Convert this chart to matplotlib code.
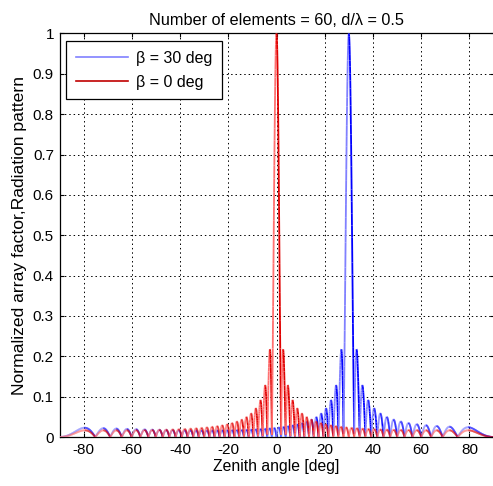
import numpy as np
import matplotlib
matplotlib.use("Agg")
import matplotlib.pyplot as plt
from matplotlib.collections import LineCollection
from matplotlib.lines import Line2D

plt.rcParams['font.family'] = ['Liberation Sans', 'DejaVu Sans']
plt.rcParams['axes.unicode_minus'] = False

# Array parameters
n_elements = 60
spacing_wl = 0.5                 # element spacing d / lambda
steer_deg = [30, 0]              # beam steering angles beta
legend_labels = ['\u03b2 = 30 deg', '\u03b2 = 0 deg']
rise_colors = ['#8080ff', '#ff7070']
fall_colors = ['#0000ff', '#e00000']
legend_colors = ['#8080ff', '#c00000']
x_ticks = [-80, -60, -40, -20, 0, 20, 40, 60, 80]
y_ticks = [0, 0.1, 0.2, 0.3, 0.4, 0.5, 0.6, 0.7, 0.8, 0.9, 1]
y_tick_labels = ['0', '0.1', '0.2', '0.3', '0.4', '0.5', '0.6', '0.7', '0.8', '0.9', '1']

theta = np.linspace(-90, 90, 3601)


def array_factor(theta_deg, beta_deg):
    psi = 2 * np.pi * spacing_wl * (np.sin(np.radians(theta_deg)) - np.sin(np.radians(beta_deg)))
    num = np.sin(n_elements * psi / 2)
    den = n_elements * np.sin(psi / 2)
    with np.errstate(invalid='ignore', divide='ignore'):
        af = np.where(np.abs(den) < 1e-12, 1.0, num / den)
    af = np.abs(af)
    return af / af.max()


fig = plt.figure(figsize=(4.93, 4.86), dpi=100)
ax = fig.add_axes([59.5 / 493, 49 / 486, 434 / 493, 403.5 / 486])

for beta, c_up, c_down in zip(steer_deg, rise_colors, fall_colors):
    af = array_factor(theta, beta)
    pts = np.column_stack([theta, af]).reshape(-1, 1, 2)
    segs = np.concatenate([pts[:-1], pts[1:]], axis=1)
    rising = np.diff(af) > 0
    cols = [c_up if r else c_down for r in rising]
    ax.add_collection(LineCollection(segs, colors=cols, linewidths=1.3, zorder=3))

ax.set_xlim(-90, 90)
ax.set_ylim(0, 1)
ax.set_xticks(x_ticks)
ax.set_yticks(y_ticks)
ax.set_yticklabels(y_tick_labels)
ax.tick_params(direction='in', top=True, right=True, labelsize=11, length=3, width=0.8, pad=4)
ax.grid(True, color='black', linestyle=(0, (1.5, 3)), linewidth=0.7)
for s in ax.spines.values():
    s.set_linewidth(0.9)

ax.set_xlabel('Zenith angle [deg]', fontsize=11.3, labelpad=2)
ax.set_ylabel('Normalized array factor,Radiation pattern', fontsize=12.6, labelpad=4)
ax.set_title('Number of elements = %d, d/\u03bb = %g' % (n_elements, spacing_wl), fontsize=11.7, pad=6)

handles = [Line2D([0], [0], color=c, lw=1.2) for c in legend_colors]
leg = ax.legend(handles, legend_labels, loc='upper left', fontsize=11.5, fancybox=False,
                framealpha=1, edgecolor='black', borderpad=0.6, handlelength=3.3,
                handletextpad=0.5, labelspacing=0.55, borderaxespad=0,
                bbox_to_anchor=(0.015, 0.981))
leg.get_frame().set_linewidth(0.9)

fig.savefig('out.png', dpi=100)
